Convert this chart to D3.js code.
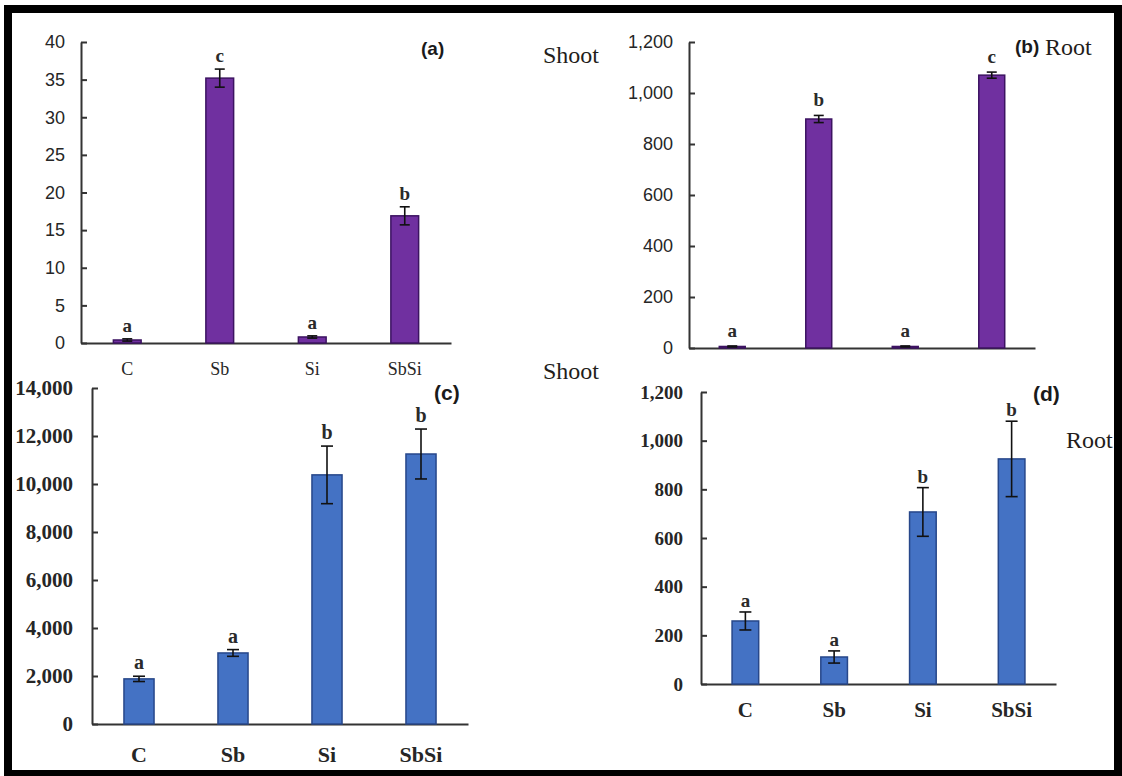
<!DOCTYPE html>
<html>
<head>
<meta charset="utf-8">
<script src="https://cdn.jsdelivr.net/npm/d3@7"></script>
<style>
  body { margin: 0; background: #fff; }
  svg { display: block; }
</style>
</head>
<body>
<div id="chart"></div>
<script>
const width = 1122;
const height = 776;

// treatments
const categories = ["C", "Sb", "Si", "SbSi"];

// (a) Sb in shoot
const shootSb = [0.4, 35.2, 0.8, 16.9];
const shootSbErr = [0.15, 1.2, 0.15, 1.2];
const shootSbLetters = ["a", "c", "a", "b"];
const ticksA = [0, 5, 10, 15, 20, 25, 30, 35, 40];

// (b) Sb in root
const rootSb = [6, 898, 6, 1070];
const rootSbErr = [2, 14, 2, 12];
const rootSbLetters = ["a", "b", "a", "c"];
const ticksB = [0, 200, 400, 600, 800, 1000, 1200];

// (c) Si in shoot
const shootSi = [1880, 2960, 10380, 11250];
const shootSiErr = [110, 140, 1200, 1040];
const shootSiLetters = ["a", "a", "b", "b"];
const ticksC = [0, 2000, 4000, 6000, 8000, 10000, 12000, 14000];

// (d) Si in root
const rootSi = [259, 111, 707, 925];
const rootSiErr = [37, 25, 100, 155];
const rootSiLetters = ["a", "a", "b", "b"];
const ticksD = [0, 200, 400, 600, 800, 1000, 1200];

const purple = "#7030a0", purpleEdge = "#3c1361";
const blue = "#4472c4", blueEdge = "#27478a";
const serif = "Liberation Serif, Times New Roman, serif";
const sans = "Liberation Sans, Arial, sans-serif";

const svg = d3.select("#chart")
  .append("svg")
  .attr("width", width)
  .attr("height", height);

svg.append("rect")
  .attr("width", width).attr("height", height)
  .attr("fill", "#fff");

// outer black frame
svg.append("rect")
  .attr("x", 8).attr("y", 9)
  .attr("width", 1110).attr("height", 765)
  .attr("fill", "none")
  .attr("stroke", "#000")
  .attr("stroke-width", 8);

const panels = [
  { values: shootSb, errors: shootSbErr, letters: shootSbLetters, ticks: ticksA,
    x0: 81, x1: 451, yTop: 42, yBottom: 343, pad: 0.7,
    fill: purple, edge: purpleEdge, cap: 5, gap: 7,
    tickFont: sans, tickWeight: "normal", tickSize: 18, tickPad: 16,
    catSize: 18, catY: 32, catWeight: "normal", letterSize: 19,
    tag: "(a)", tagX: 421, tagY: 55, tagSize: 19 },
  { values: rootSb, errors: rootSbErr, letters: rootSbLetters, ticks: ticksB,
    x0: 689, x1: 1035, yTop: 42, yBottom: 348, pad: 0.7,
    fill: purple, edge: purpleEdge, cap: 5, gap: 9,
    tickFont: sans, tickWeight: "normal", tickSize: 18, tickPad: 16,
    catSize: 0, catY: 0, catWeight: "normal", letterSize: 19,
    tag: "(b)", tagX: 1015, tagY: 53, tagSize: 19 },
  { values: shootSi, errors: shootSiErr, letters: shootSiLetters, ticks: ticksC,
    x0: 92, x1: 468, yTop: 388, yBottom: 724, pad: 0.68,
    fill: blue, edge: blueEdge, cap: 6, gap: 7,
    tickFont: serif, tickWeight: "bold", tickSize: 21, tickPad: 19,
    catSize: 22, catY: 38, catWeight: "bold", letterSize: 20,
    tag: "(c)", tagX: 434, tagY: 400, tagSize: 21 },
  { values: rootSi, errors: rootSiErr, letters: rootSiLetters, ticks: ticksD,
    x0: 701, x1: 1056, yTop: 392, yBottom: 684, pad: 0.7,
    fill: blue, edge: blueEdge, cap: 6, gap: 5,
    tickFont: serif, tickWeight: "bold", tickSize: 19, tickPad: 18,
    catSize: 21, catY: 33, catWeight: "bold", letterSize: 19,
    tag: "(d)", tagX: 1033, tagY: 401, tagSize: 21 }
];

panels.forEach(p => {
  const g = svg.append("g");

  const x = d3.scaleBand()
    .domain(categories)
    .range([p.x0, p.x1])
    .paddingInner(p.pad)
    .paddingOuter(p.pad / 2);

  const y = d3.scaleLinear()
    .domain([0, p.ticks[p.ticks.length - 1]])
    .range([p.yBottom, p.yTop]);

  // y axis, ticks pointing inward
  const yAxis = g.append("g")
    .attr("transform", `translate(${p.x0},0)`)
    .call(d3.axisLeft(y)
      .tickValues(p.ticks)
      .tickSize(-6)
      .tickSizeOuter(0)
      .tickPadding(p.tickPad)
      .tickFormat(d3.format(",")));
  yAxis.attr("font-family", p.tickFont).attr("font-size", p.tickSize)
    .attr("font-weight", p.tickWeight);
  yAxis.selectAll("text").attr("fill", "#262626");
  yAxis.selectAll("path, line").attr("stroke", "#333").attr("stroke-width", 2);

  // x axis
  const xAxis = g.append("g")
    .attr("transform", `translate(0,${p.yBottom})`)
    .call(d3.axisBottom(x).tickSize(0).tickSizeOuter(0)
      .tickFormat(d => p.catSize ? d : ""));
  xAxis.attr("font-family", serif).attr("font-size", p.catSize || 10)
    .attr("font-weight", p.catWeight);
  xAxis.selectAll("text").attr("y", p.catY).attr("dy", 0).attr("fill", "#262626");
  xAxis.select(".domain").attr("stroke", "#333").attr("stroke-width", 2);

  const rows = categories.map((c, i) => ({ c, v: p.values[i], e: p.errors[i], l: p.letters[i] }));

  g.selectAll("rect.bar")
    .data(rows)
    .join("rect")
    .attr("class", "bar")
    .attr("x", d => x(d.c))
    .attr("y", d => y(d.v))
    .attr("width", x.bandwidth())
    .attr("height", d => p.yBottom - y(d.v))
    .attr("fill", p.fill)
    .attr("stroke", p.edge)
    .attr("stroke-width", 1.5);

  const cx = d => x(d.c) + x.bandwidth() / 2;

  const err = g.selectAll("g.err")
    .data(rows)
    .join("g")
    .attr("class", "err")
    .attr("stroke", "#111")
    .attr("stroke-width", 1.6);
  err.append("line")
    .attr("x1", cx).attr("x2", cx)
    .attr("y1", d => y(d.v + d.e)).attr("y2", d => y(Math.max(0, d.v - d.e)));
  err.append("line")
    .attr("x1", d => cx(d) - p.cap).attr("x2", d => cx(d) + p.cap)
    .attr("y1", d => y(d.v + d.e)).attr("y2", d => y(d.v + d.e));
  err.append("line")
    .attr("x1", d => cx(d) - p.cap).attr("x2", d => cx(d) + p.cap)
    .attr("y1", d => y(Math.max(0, d.v - d.e))).attr("y2", d => y(Math.max(0, d.v - d.e)));

  // significance letters
  g.selectAll("text.letter")
    .data(rows)
    .join("text")
    .attr("class", "letter")
    .attr("x", cx)
    .attr("y", d => y(d.v + d.e) - p.gap)
    .attr("text-anchor", "middle")
    .attr("font-family", serif)
    .attr("font-weight", "bold")
    .attr("font-size", p.letterSize)
    .attr("fill", "#2a2a2a")
    .text(d => d.l);

  g.append("text")
    .attr("x", p.tagX).attr("y", p.tagY)
    .attr("font-family", sans)
    .attr("font-weight", "bold")
    .attr("font-size", p.tagSize)
    .attr("fill", "#1a1a1a")
    .text(p.tag);
});

// organ labels
const organLabels = [
  { t: "Shoot", x: 543, y: 63 },
  { t: "Root", x: 1045, y: 55 },
  { t: "Shoot", x: 543, y: 379 },
  { t: "Root", x: 1066, y: 448 }
];
svg.selectAll("text.organ")
  .data(organLabels)
  .join("text")
  .attr("class", "organ")
  .attr("x", d => d.x).attr("y", d => d.y)
  .attr("font-family", serif)
  .attr("font-size", 24)
  .attr("fill", "#231d1a")
  .text(d => d.t);
</script>
</body>
</html>
